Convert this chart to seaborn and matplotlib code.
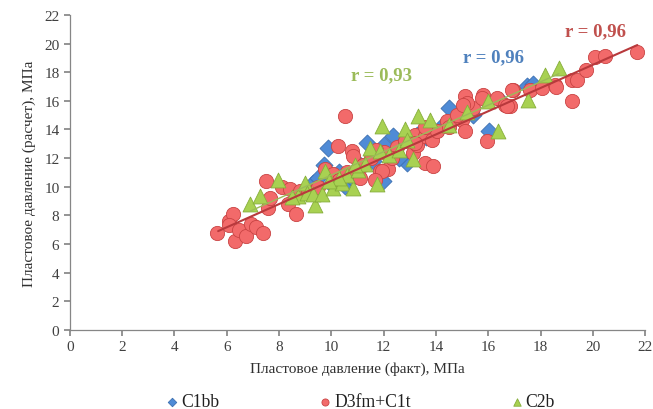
import numpy as np
import pandas as pd
import matplotlib
matplotlib.use("Agg")
import matplotlib.pyplot as plt
import seaborn as sns

# ---------------- data ----------------
series_names = ["C1bb", "D3fm+C1t", "C2b"]

c1bb_x = [9.88, 11.35, 12.37, 13.26, 9.31, 11.99, 10.52, 12.88, 14.51, 16.04, 17.47, 17.7,
          9.5, 10.0, 10.3, 10.8, 11.1, 11.6, 12.2, 12.6, 13.6, 14.2, 15.4, 16.5, 8.9, 9.7, 12.0]
c1bb_y = [12.72, 13.07, 13.53, 13.65, 10.28, 10.4, 10.05, 11.68, 15.51, 13.88, 17.01, 17.2,
          10.6, 10.2, 11.0, 10.6, 11.5, 11.8, 12.4, 12.0, 13.5, 14.2, 15.0, 16.0, 9.6, 11.5, 12.9]

d3_x = [5.64, 6.1, 6.25, 6.1, 6.31, 6.48, 6.73, 6.91, 7.1, 7.4, 7.5, 7.59, 7.65, 8.1, 8.42,
        8.35, 8.65, 8.8, 9.12, 9.76, 10.07, 10.27, 10.78, 10.84, 10.52, 11.09, 11.86, 12.18,
        13.13, 13.26, 13.2, 13.58, 13.84, 14.03, 13.58, 13.9, 14.41, 14.98, 15.11, 15.43,
        15.11, 15.17, 15.81, 16.32, 16.64, 16.96, 15.94, 16.83, 16.9, 17.6, 18.05, 18.55,
        19.2, 19.38, 19.74, 20.08, 20.47, 21.68, 19.19,
        9.5, 10.3, 10.6, 11.2, 11.5, 12.0, 12.5, 12.8, 11.7, 12.3, 14.5, 14.8, 15.05, 15.75,
        16.7, 18.6, 13.58, 11.92, 11.67, 13.2]
d3_y = [6.75, 7.6, 8.08, 7.33, 6.18, 6.98, 6.57, 7.43, 7.17, 6.8, 10.4, 8.5, 9.24, 9.98, 9.82,
        8.77, 8.08, 9.7, 9.7, 11.21, 10.86, 12.83, 12.49, 12.14, 14.97, 10.63, 11.09, 11.21,
        12.37, 12.95, 13.65, 13.53, 13.3, 13.88, 11.68, 11.44, 14.58, 14.69, 13.88, 15.51,
        16.32, 15.86, 16.43, 16.2, 15.74, 16.78, 13.18, 15.62, 16.78, 16.78, 16.9, 17.13,
        17.48, 17.48, 18.18, 19.03, 19.15, 19.4, 15.97,
        10.0, 10.5, 11.0, 11.5, 12.0, 12.4, 12.8, 13.2, 12.6, 12.0, 14.2, 15.0, 15.74, 16.2,
        15.62, 17.0, 14.2, 11.1, 10.5, 13.07]

c2b_x = [6.89, 7.27, 7.97, 8.73, 8.99, 9.37, 9.75, 9.05, 9.3, 9.63, 10.07, 10.39, 10.84, 11.73,
         11.92, 12.82, 13.13, 11.48, 11.86, 13.33, 13.77, 16.0, 16.38, 17.53, 18.17, 18.72,
         10.6, 11.0, 11.3, 12.2, 12.6, 10.3, 9.9, 14.5, 15.2, 12.9, 10.9, 8.5]
c2b_y = [8.77, 9.35, 10.5, 9.35, 10.28, 8.7, 11.1, 9.59, 9.47, 9.47, 9.93, 10.28, 9.93, 10.17,
         14.23, 14.0, 11.91, 12.72, 12.49, 14.92, 14.69, 15.97, 13.88, 16.09, 17.83, 18.29,
         10.8, 11.2, 11.6, 12.2, 12.6, 10.6, 10.4, 14.3, 15.2, 13.3, 11.5, 9.3]

# trend lines
trend_red_x = [5.67, 21.7]
trend_red_y = [6.9, 19.9]
trend_green_x = [6.9, 18.7]
trend_green_y = [8.3, 17.9]

r_labels = ["r = 0,93", "r = 0,96", "r = 0,96"]
r_pos_x = [11.9, 16.2, 20.1]
r_pos_y = [17.8, 19.1, 20.9]

x_ticks = list(range(0, 23, 2))
y_ticks = list(range(0, 23, 2))
x_label = "Пластовое давление (факт), МПа"
y_label = "Пластовое давление (расчет), МПа"

# ---------------- plot ----------------
sns.set_theme(style="white")
plt.rcParams["font.family"] = ["Liberation Serif", "DejaVu Serif"]

fig = plt.figure(figsize=(6.53, 4.10), dpi=100)
ax = fig.add_axes([0.107, 0.193, 0.881, 0.768])

df = pd.concat([
    pd.DataFrame({"x": c1bb_x, "y": c1bb_y, "s": series_names[0]}),
    pd.DataFrame({"x": d3_x, "y": d3_y, "s": series_names[1]}),
    pd.DataFrame({"x": c2b_x, "y": c2b_y, "s": series_names[2]}),
], ignore_index=True)

styles = {
    "C1bb": dict(marker="D", color="#4F8BD6", edgecolor="#3C6FB0", s=75),
    "D3fm+C1t": dict(marker="o", color="#F26A6A", edgecolor="#C94444", s=105),
    "C2b": dict(marker="^", color="#A8D152", edgecolor="#86AE3A", s=115),
}

for name in ["C1bb", "D3fm+C1t", "C2b"]:
    st = styles[name]
    sub = df[df["s"] == name]
    sns.scatterplot(data=sub, x="x", y="y", ax=ax, marker=st["marker"], color=st["color"],
                    edgecolor=st["edgecolor"], linewidth=0.6, s=st["s"], label=name, zorder=3)

sns.lineplot(x=trend_red_x, y=trend_red_y, ax=ax, color="#B8393C", linewidth=1.5, zorder=4)
sns.lineplot(x=trend_green_x, y=trend_green_y, ax=ax, color="#9BBB59", linewidth=1.0, zorder=4)

r_colors = ["#9BBB59", "#4F81BD", "#C0504D"]
for t, xx, yy, c in zip(r_labels, r_pos_x, r_pos_y, r_colors):
    ax.text(xx, yy, t, color=c, fontsize=13.5, fontweight="bold", ha="center", va="center", zorder=5)

ax.set_xlim(0, 22)
ax.set_ylim(0, 22)
ax.set_xticks(x_ticks)
ax.set_yticks(y_ticks)
ax.tick_params(axis="both", labelsize=11, colors="#404040", length=4, direction="out",
               bottom=True, left=True)
ax.tick_params(axis="both", color="#868686")
for sp in ["top", "right"]:
    ax.spines[sp].set_visible(False)
for sp in ["left", "bottom"]:
    ax.spines[sp].set_color("#868686")
    ax.spines[sp].set_linewidth(0.9)
ax.set_xlabel(x_label, fontsize=11, color="#303030", labelpad=6)
ax.set_ylabel(y_label, fontsize=11, color="#303030", labelpad=6)
ax.grid(False)

handles, labels = ax.get_legend_handles_labels()
leg = ax.legend(handles[:3], labels[:3], loc="center left", bbox_to_anchor=(0.163, -0.228),
                ncol=3, frameon=False,
                prop={"family": ["Liberation Serif", "DejaVu Serif"], "size": 12.7},
                markerscale=0.5, handletextpad=0.0,
                columnspacing=5.5, handlelength=1.0, borderpad=0.0, borderaxespad=0.0)
for txt in leg.get_texts():
    txt.set_color("#202020")

fig.savefig("out.png", dpi=100)
